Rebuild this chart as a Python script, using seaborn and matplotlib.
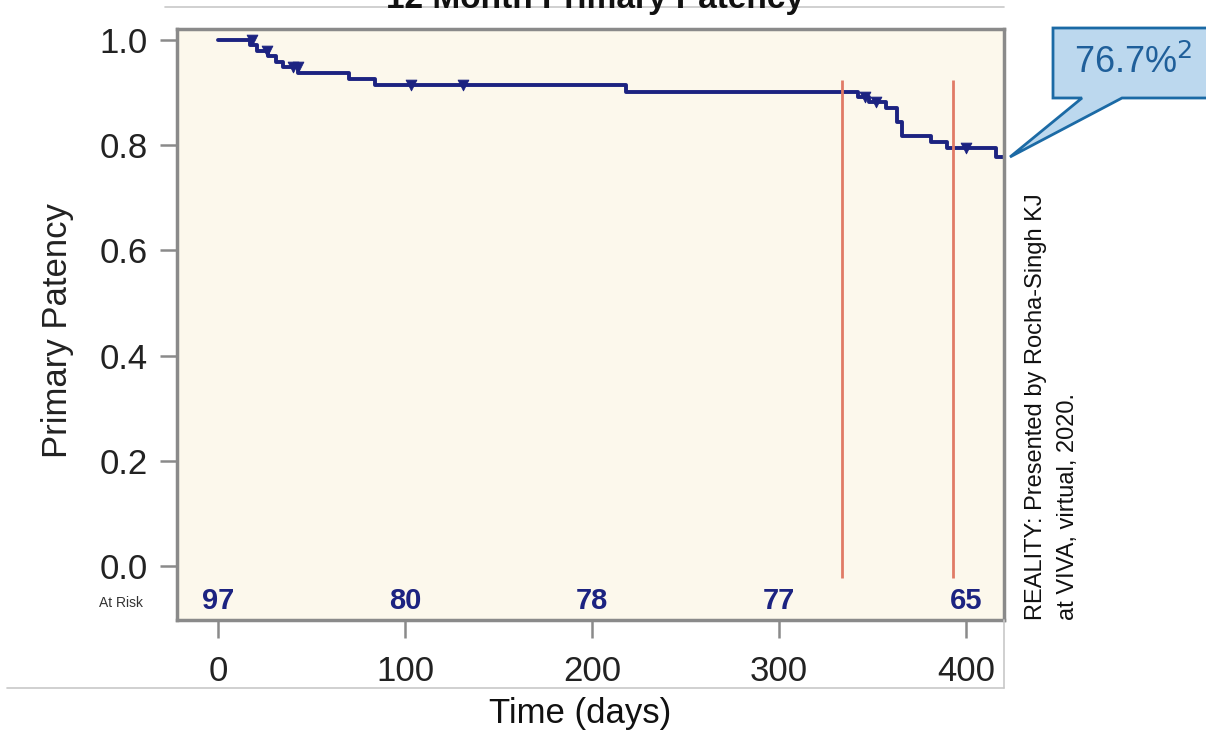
import matplotlib
matplotlib.use('Agg')
import matplotlib.pyplot as plt
import seaborn as sns
import pandas as pd
from matplotlib.lines import Line2D
from matplotlib.patches import Polygon

# Kaplan-Meier step curve (day, survival)
km_days = [0, 17, 21, 27, 31, 35, 43, 70, 84, 218, 342, 348, 357, 363, 366, 381, 390, 416, 420]
km_surv = [1.0, 0.990, 0.979, 0.969, 0.958, 0.948, 0.938, 0.926, 0.914, 0.901,
           0.892, 0.882, 0.870, 0.845, 0.818, 0.806, 0.795, 0.777, 0.777]

# censored observations
cens_days = [18, 26, 40, 43, 103, 131, 346, 352, 400]
cens_surv = [1.0, 0.979, 0.948, 0.948, 0.914, 0.914, 0.892, 0.882, 0.795]

# numbers at risk
risk_days = [0, 100, 200, 300, 400]
risk_n = [97, 80, 78, 77, 65]

# red reference lines
ref_days = [333.7, 393]

x_ticks = [0, 100, 200, 300, 400]
y_ticks = [0.0, 0.2, 0.4, 0.6, 0.8, 1.0]

sns.set_theme(style='ticks')
plt.rcParams['font.family'] = ['Liberation Sans Narrow', 'Liberation Sans', 'DejaVu Sans']

W, H = 1206, 737
fig = plt.figure(figsize=(W / 100, H / 100), dpi=100)
ax = fig.add_axes([177 / W, 1 - 620 / H, (1004 - 177) / W, (620 - 29) / H])
ax.set_facecolor('#fcf8ec')

navy = '#1c2381'
df_km = pd.DataFrame({'day': km_days, 'surv': km_surv})
sns.lineplot(data=df_km, x='day', y='surv', ax=ax, color=navy, lw=2.8,
             drawstyle='steps-post', estimator=None, sort=False)
df_c = pd.DataFrame({'day': cens_days, 'surv': cens_surv})
sns.scatterplot(data=df_c, x='day', y='surv', ax=ax, color=navy, marker='v',
                s=60, edgecolor=navy, zorder=4)

ax.vlines(ref_days, -0.023, 0.924, color='#e07b66', lw=2, zorder=3)

for d, n in zip(risk_days, risk_n):
    ax.text(d, -0.067, str(n), ha='center', va='center', color=navy,
            fontsize=21, fontweight='bold')
ax.text(-52, -0.07, 'At Risk', ha='center', va='center', fontsize=10,
        color='#333333', clip_on=False)

ax.set_xlim(-21.9, 420.3)
ax.set_ylim(-0.103, 1.021)
ax.set_xticks(x_ticks)
ax.set_yticks(y_ticks)
ax.set_yticklabels([f'{v:.1f}' for v in y_ticks])
ax.tick_params(axis='x', length=13, width=1.8, pad=12, labelsize=25,
               color='#8a8a8a', labelcolor='#222222')
ax.tick_params(axis='y', length=12, width=1.8, pad=9, labelsize=25,
               color='#8a8a8a', labelcolor='#222222')
for sp in ax.spines.values():
    sp.set_visible(True)
    sp.set_color('#8a8a8a')
    sp.set_linewidth(2.5)

ax.set_xlabel('Time (days)', fontsize=25, color='#111111')
ax.set_ylabel('Primary Patency', fontsize=25, color='#222222')
ax.xaxis.set_label_coords(0.487, -0.13)
ax.yaxis.set_label_coords(-0.125, 0.49)

# title (cut off at the top, as in the source slide)
fig.text(595 / W, 1 - 8 / H, '12 Month Primary Patency', ha='center',
         va='baseline', fontsize=24, fontweight='bold', color='#111111')

# slide frame lines
fig.add_artist(Line2D([165 / W, 1004 / W], [1 - 7 / H, 1 - 7 / H],
                      color='#c8c8c8', lw=1.2))
fig.add_artist(Line2D([7 / W, 1004 / W], [1 - 688 / H, 1 - 688 / H],
                      color='#c8c8c8', lw=1.2))
fig.add_artist(Line2D([1004 / W, 1004 / W], [1 - 620 / H, 1 - 688 / H],
                      color='#c8c8c8', lw=1.2))

# callout
pts = [(1053, 28), (1210, 28), (1210, 98), (1122, 98), (1010, 157),
       (1082, 98), (1053, 98)]
fig.add_artist(Polygon([(x / W, 1 - y / H) for x, y in pts], closed=True,
                       transform=fig.transFigure, facecolor='#bcd8ee',
                       edgecolor='#1b6aa5', lw=2))
fig.text(1133 / W, 1 - 63 / H, '76.7%$^{2}$', ha='center', va='center',
         fontsize=26, color='#1f5f9a', family=['Liberation Sans', 'DejaVu Sans'])

fig.text(1052 / W, 1 - 620 / H,
         'REALITY: Presented by Rocha-Singh KJ\nat VIVA, virtual, 2020.',
         rotation=90, ha='center', va='bottom', multialignment='left',
         linespacing=1.6, fontsize=17, color='#111111')

fig.savefig('out.png', dpi=100)
